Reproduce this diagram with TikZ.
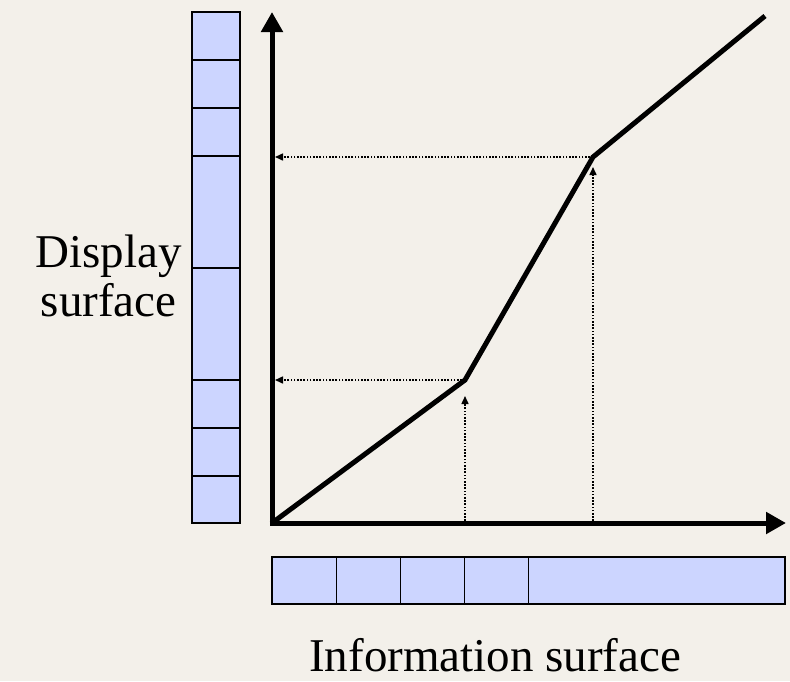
\documentclass[tikz,border=0pt]{standalone}
\usepackage{fontspec}
\setmainfont{Liberation Serif}
\usetikzlibrary{arrows.meta}
\definecolor{bg}{RGB}{243,240,234}
\definecolor{cellfill}{RGB}{204,213,255}
\tikzset{
  cell/.style={draw=black, line width=1.8pt, fill=cellfill},
  axis/.style={line width=5pt, -{Triangle[length=20pt,width=21pt]}},
  graphline/.style={line width=5pt, line join=miter},
  guide/.style={line width=1.5pt, dash pattern=on 1.6pt off 1.6pt, -{Triangle[length=8pt,width=7pt]}},
  lbl/.style={inner sep=0pt, font=\fontsize{47}{49}\selectfont}
}
\begin{document}
\begin{tikzpicture}[x=1pt,y=-1pt]
\fill[bg] (0,0) rectangle (790,681);
\useasboundingbox (0,0) rectangle (790,681);
% vertical bar (display surface)
\foreach \a/\b in {12/60,60/108,108/156,156/268,268/380,380/428,428/476,476/523}
  \draw[cell] (192,\a) rectangle (240,\b);
% horizontal bar (information surface)
\foreach \a/\b in {272/336.5,336.5/400.5,400.5/464.5,464.5/528.5,528.5/785}
  \draw[cell] (\a,557) rectangle (\b,604);
% key points
\coordinate (O) at (272,523);
\coordinate (ytop) at (272,12);
\coordinate (xend) at (786,523);
\coordinate (k1) at (465,380);
\coordinate (k2) at (593,157);
\coordinate (e) at (765,16);
\coordinate (y1) at (275,380);
\coordinate (y2) at (275,157);
\coordinate (x1) at (465,521);
\coordinate (x2) at (593,521);
\coordinate (k1b) at (465,396);
\coordinate (k2b) at (593,167);
% guides
\draw[guide] (k1) -- (y1);
\draw[guide] (k2) -- (y2);
\draw[guide] (x1) -- (k1b);
\draw[guide] (x2) -- (k2b);
% axes
\draw[axis] ([yshift=-2.5pt]O) -- (ytop);
\draw[axis] ([xshift=-2.5pt]O) -- (xend);
% graph
\draw[graphline] (O) -- (k1) -- (k2) -- (e);
% labels
\node[lbl, align=center, anchor=east] (disp) at (182,276) {Display\\surface};
\node[lbl, anchor=base west] (info) at (309,671) {Information surface};
\end{tikzpicture}
\end{document}
